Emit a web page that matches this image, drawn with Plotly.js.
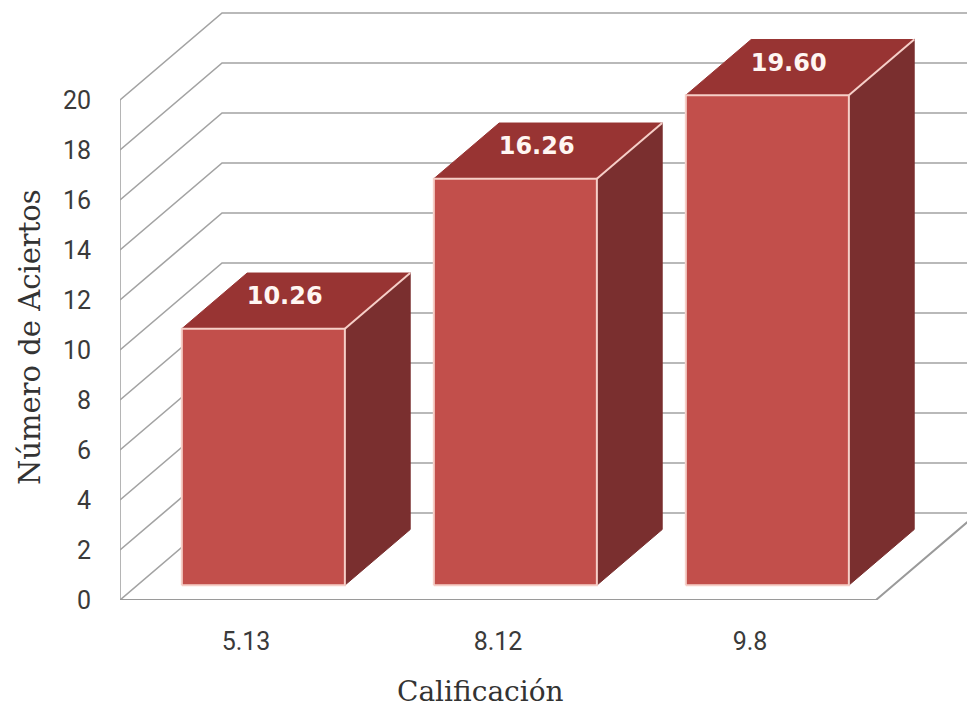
<!DOCTYPE html>
<html>
<head>
<meta charset="utf-8">
<script src="https://cdn.plot.ly/plotly-3.0.1.min.js"></script>
<style>
  html, body { margin: 0; padding: 0; background: #ffffff; }
  #chart { width: 967px; height: 711px; }
</style>
</head>
<body>
<div id="chart"></div>
<script>
// ---- data ----
const categories = ['5.13', '8.12', '9.8'];
const values = [10.26, 16.26, 19.60];
const yTickVals = [0, 2, 4, 6, 8, 10, 12, 14, 16, 18, 20];
const xTitle = 'Calificación';
const yTitle = 'Número de Aciertos';

// ---- oblique 3D projection (style constants) ----
const DX = 0.405;   // x shift (axis units) for full depth
const DY = 3.48;    // y shift (axis units) for full depth
const Z0 = 0.17;    // bar front depth
const Z1 = 0.81;    // bar back depth
const HW = 0.3235;  // half width of bar front face
const LEFT = -0.5, RIGHT = 2.5;

function pt(x, y, z) { return [x + z * DX, y + z * DY]; }

// walls & floor grid
const gx = [], gy = [];
yTickVals.forEach(v => {
  const a = pt(LEFT, v, 0), b = pt(LEFT, v, 1), c = pt(RIGHT, v, 1);
  gx.push(a[0], b[0], c[0] + 0.2, null);
  gy.push(a[1], b[1], c[1], null);
});
// left front vertical edge
gx.push(LEFT, LEFT, null); gy.push(0, yTickVals[yTickVals.length - 1], null);
// floor front & right edge
const f1 = pt(LEFT, 0, 0), f2 = pt(RIGHT, 0, 0), f3 = pt(RIGHT, 0, 1);
const floorX = [f1[0], f2[0], f3[0]], floorY = [f1[1], f2[1], f3[1]];

// bar faces
const sideX = [], sideY = [], topX = [], topY = [], frontX = [], frontY = [], edgeX = [], edgeY = [];
values.forEach((v, i) => {
  const L = i - HW, R = i + HW;
  const s = [pt(R, 0, Z0), pt(R, 0, Z1), pt(R, v, Z1), pt(R, v, Z0), pt(R, 0, Z0)];
  s.forEach(p => { sideX.push(p[0]); sideY.push(p[1]); }); sideX.push(null); sideY.push(null);
  const t = [pt(L, v, Z0), pt(R, v, Z0), pt(R, v, Z1), pt(L, v, Z1), pt(L, v, Z0)];
  t.forEach(p => { topX.push(p[0]); topY.push(p[1]); }); topX.push(null); topY.push(null);
  const f = [pt(L, 0, Z0), pt(R, 0, Z0), pt(R, v, Z0), pt(L, v, Z0), pt(L, 0, Z0)];
  f.forEach(p => { frontX.push(p[0]); frontY.push(p[1]); }); frontX.push(null); frontY.push(null);
  const e = [pt(R, v, Z0), pt(R, v, Z1)];
  e.forEach(p => { edgeX.push(p[0]); edgeY.push(p[1]); }); edgeX.push(null); edgeY.push(null);
});

// labels on top faces
const LZ = 0.49, LDX = -0.045;
const labX = values.map((v, i) => pt(i, v, LZ)[0] + LDX);
const labY = values.map((v, i) => pt(i, v, LZ)[1] + 0.1);
const labT = values.map(v => v.toFixed(2));

const gridColor = '#a3a3a3';
const traces = [
  { type: 'scatter', mode: 'lines', x: gx, y: gy, line: { color: gridColor, width: 1.6 }, hoverinfo: 'skip', showlegend: false },
  { type: 'scatter', mode: 'lines', x: floorX, y: floorY, line: { color: '#9a9a9a', width: 2 }, hoverinfo: 'skip', showlegend: false },
  { type: 'scatter', mode: 'lines', x: sideX, y: sideY, fill: 'toself', fillcolor: '#7a2f2f', line: { color: '#7a2f2f', width: 1 }, hoverinfo: 'skip', showlegend: false },
  { type: 'scatter', mode: 'lines', x: topX, y: topY, fill: 'toself', fillcolor: '#983433', line: { color: '#983433', width: 1 }, hoverinfo: 'skip', showlegend: false },
  { type: 'scatter', mode: 'lines', x: frontX, y: frontY, fill: 'toself', fillcolor: '#c24f4b', line: { color: '#f6cfc8', width: 2 }, hoverinfo: 'skip', showlegend: false },
  { type: 'scatter', mode: 'lines', x: edgeX, y: edgeY, line: { color: '#f6cfc8', width: 2 }, hoverinfo: 'skip', showlegend: false },
  { type: 'scatter', mode: 'text', x: labX, y: labY, text: labT, textposition: 'middle center',
    textfont: { family: 'DejaVu Sans', size: 24, color: '#fff6f2', weight: 'bold' }, hoverinfo: 'skip', showlegend: false, cliponaxis: false }
];

const W = 967, H = 711, ML = 120, MR = 0, MT = 10, MB = 111;
const pxPerX = 252, pxPerY = 25;
const PW = W - ML - MR, PH = H - MT - MB;
const layout = {
  width: W, height: H, autosize: false,
  margin: { l: ML, r: MR, t: MT, b: MB, pad: 0 },
  paper_bgcolor: '#ffffff', plot_bgcolor: '#ffffff',
  showlegend: false, hovermode: false,
  xaxis: {
    range: [LEFT, LEFT + PW / pxPerX],
    tickvals: categories.map((c, i) => i), ticktext: categories,
    showgrid: false, zeroline: false, showline: false, ticks: '',
    ticklabelstandoff: 24,
    tickfont: { family: 'Liberation Sans Narrow, Roboto, sans-serif', size: 25, color: '#3a3a3a' },
    fixedrange: true
  },
  yaxis: {
    range: [0, PH / pxPerY],
    tickvals: yTickVals, ticktext: yTickVals.map(String),
    showgrid: false, zeroline: false, showline: false, ticks: '',
    ticklabelstandoff: 28,
    tickfont: { family: 'Liberation Sans Narrow, Roboto, sans-serif', size: 25, color: '#3a3a3a' },
    fixedrange: true
  },
  annotations: [
    { text: xTitle, xref: 'paper', yref: 'paper', x: (480 - ML) / PW, y: -(691 - (H - MB)) / PH,
      xanchor: 'center', yanchor: 'middle', showarrow: false,
      font: { family: 'DejaVu Serif', size: 28, color: '#333333' } },
    { text: yTitle, xref: 'paper', yref: 'paper', x: (30 - ML) / PW, y: ((H - MB) - 337) / PH,
      xanchor: 'center', yanchor: 'middle', textangle: -90, showarrow: false,
      font: { family: 'DejaVu Serif', size: 29, color: '#333333' } }
  ]
};

Plotly.newPlot('chart', traces, layout, { displayModeBar: false, staticPlot: true });
</script>
</body>
</html>
